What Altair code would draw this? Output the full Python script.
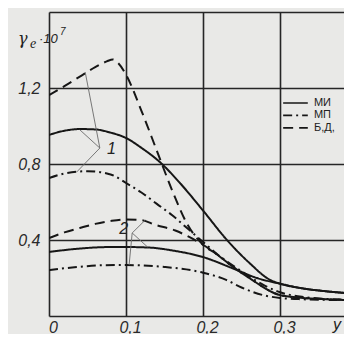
import altair as alt
import pandas as pd

# ---- data ----
mi1_x = [0, 0.02, 0.04, 0.06, 0.08, 0.1, 0.12, 0.144, 0.17, 0.2, 0.231, 0.26, 0.287, 0.3, 0.33, 0.36, 0.395]
mi1_y = [0.953, 0.975, 0.984, 0.982, 0.965, 0.937, 0.885, 0.81, 0.70, 0.555, 0.40, 0.28, 0.19, 0.17, 0.145, 0.13, 0.118]

mi2_x = [0, 0.04, 0.08, 0.1, 0.131, 0.16, 0.2, 0.239, 0.27, 0.3, 0.33, 0.36, 0.395]
mi2_y = [0.337, 0.355, 0.363, 0.363, 0.36, 0.345, 0.31, 0.25, 0.20, 0.17, 0.145, 0.13, 0.118]

mp1_x = [0, 0.02, 0.05, 0.08, 0.1, 0.12, 0.14, 0.16, 0.18, 0.2, 0.22, 0.25, 0.28, 0.3, 0.33, 0.36, 0.395]
mp1_y = [0.726, 0.75, 0.762, 0.745, 0.70, 0.65, 0.59, 0.53, 0.46, 0.39, 0.32, 0.235, 0.16, 0.125, 0.10, 0.09, 0.085]

mp2_x = [0, 0.03, 0.07, 0.1, 0.15, 0.2, 0.23, 0.25, 0.28, 0.3, 0.33, 0.36, 0.395]
mp2_y = [0.242, 0.255, 0.267, 0.268, 0.258, 0.228, 0.19, 0.15, 0.108, 0.095, 0.088, 0.085, 0.083]

bd1_x = [0, 0.02, 0.04, 0.06, 0.075, 0.083, 0.09, 0.1, 0.12, 0.14, 0.16, 0.18, 0.2, 0.216, 0.24, 0.26, 0.275, 0.29, 0.3, 0.33, 0.36, 0.395]
bd1_y = [1.163, 1.21, 1.26, 1.31, 1.34, 1.35, 1.33, 1.27, 1.08, 0.87, 0.66, 0.48, 0.375, 0.33, 0.255, 0.20, 0.16, 0.125, 0.11, 0.095, 0.088, 0.083]

bd2_x = [0, 0.02, 0.04, 0.06, 0.08, 0.1, 0.12, 0.138, 0.164, 0.18, 0.2, 0.216, 0.24, 0.26, 0.275, 0.29, 0.3, 0.33, 0.36, 0.395]
bd2_y = [0.41, 0.44, 0.463, 0.485, 0.50, 0.508, 0.505, 0.48, 0.45, 0.42, 0.375, 0.33, 0.255, 0.20, 0.16, 0.125, 0.11, 0.095, 0.088, 0.083]

series_names = ["МИ", "МП", "Б,Д,"]
dash_styles = [[1, 0], [9, 4, 2, 4], [10, 6]]

# leader lines for the curve labels
lead_x = [0.066, 0.066, 0.066, 0.108, 0.108, 0.108]
lead_y = [0.884, 0.884, 0.884, 0.437, 0.437, 0.437]
lead_x2 = [0.047, 0.040, 0.036, 0.125, 0.128, 0.104]
lead_y2 = [1.284, 0.980, 0.758, 0.505, 0.363, 0.268]

label_text = ["1", "2"]
label_x = [0.081, 0.097]
label_y = [0.879, 0.458]

legend_y = [1.121, 1.056, 0.990]
legend_x0 = 0.304
legend_x1 = 0.336
legend_tx = 0.344

X_MAX = 0.383
ink = "#161616"

rows = []
for name, curve, xs, ys in [
    ("МИ", "1", mi1_x, mi1_y), ("МИ", "2", mi2_x, mi2_y),
    ("МП", "1", mp1_x, mp1_y), ("МП", "2", mp2_x, mp2_y),
    ("Б,Д,", "1", bd1_x, bd1_y), ("Б,Д,", "2", bd2_x, bd2_y),
]:
    for xv, yv in zip(xs, ys):
        rows.append({"series": name, "sid": name + curve, "x": xv, "y": yv})
df = pd.DataFrame(rows)

xscale = alt.Scale(domain=[0, X_MAX], nice=False, zero=False)
yscale = alt.Scale(domain=[0, 1.6], nice=False, zero=False)
dscale = alt.Scale(domain=series_names, range=dash_styles)

xaxis = alt.Axis(
    values=[0, 0.1, 0.2, 0.3], grid=True, gridColor="#262626", gridWidth=1.6,
    domain=False, ticks=False, labelFont="Liberation Sans", labelFontStyle="italic",
    labelFontSize=16, labelColor="#2a2a2a", labelPadding=3, labelOffset=4, labelFlush=False,
    labelExpr="datum.value == 0 ? '0' : replace(format(datum.value, '.1f'), '.', ',')",
    title=None,
)
yaxis = alt.Axis(
    values=[0, 0.4, 0.8, 1.2, 1.6], grid=True, gridColor="#262626", gridWidth=1.6,
    domain=False, ticks=False, labelFont="Liberation Sans", labelFontStyle="italic",
    labelFontSize=16, labelColor="#2a2a2a", labelPadding=9, labelFlush=False,
    labelExpr="(datum.value == 0 || datum.value == 1.6) ? '' : replace(format(datum.value, '.1f'), '.', ',')",
    title=None,
)

lines = alt.Chart(df).mark_line(interpolate="monotone", clip=True, strokeWidth=2, color=ink).encode(
    x=alt.X("x:Q", scale=xscale, axis=xaxis),
    y=alt.Y("y:Q", scale=yscale, axis=yaxis),
    strokeDash=alt.StrokeDash("series:N", scale=dscale, legend=None),
    detail="sid:N",
)

lead_df = pd.DataFrame({"x": lead_x, "y": lead_y, "x2": lead_x2, "y2": lead_y2})
leaders = alt.Chart(lead_df).mark_rule(color="#6a6a6a", strokeWidth=0.9).encode(
    x=alt.X("x:Q", scale=xscale), y=alt.Y("y:Q", scale=yscale), x2="x2:Q", y2="y2:Q"
)

lab_df = pd.DataFrame({"t": label_text, "x": label_x, "y": label_y})
labels = alt.Chart(lab_df).mark_text(
    font="Liberation Sans", fontStyle="italic", fontSize=16, color="#222"
).encode(x=alt.X("x:Q", scale=xscale), y=alt.Y("y:Q", scale=yscale), text="t:N")

leg_df = pd.DataFrame({"series": series_names, "y": legend_y,
                       "x0": [legend_x0] * 3, "x1": [legend_x1] * 3, "tx": [legend_tx] * 3})
leg_lines = alt.Chart(leg_df).mark_rule(color=ink, strokeWidth=1.6).encode(
    x=alt.X("x0:Q", scale=xscale), x2="x1:Q", y=alt.Y("y:Q", scale=yscale),
    strokeDash=alt.StrokeDash("series:N", scale=dscale, legend=None),
)
leg_text = alt.Chart(leg_df).mark_text(
    align="left", baseline="middle", font="Liberation Sans", fontSize=11, color="#222"
).encode(x=alt.X("tx:Q", scale=xscale), y=alt.Y("y:Q", scale=yscale), text="series:N")

# y-axis title  γe·10^7 and x-axis title y
t_df = pd.DataFrame({"a": [1]})
tg = alt.Chart(t_df).mark_text(align="left", baseline="alphabetic", font="DejaVu Serif",
                               fontStyle="italic", fontSize=16, color="#222", text="γ").encode(
    x=alt.value(-31), y=alt.value(32))
te = alt.Chart(t_df).mark_text(align="left", baseline="alphabetic", font="Liberation Serif",
                               fontStyle="italic", fontSize=14, color="#222", text="e").encode(
    x=alt.value(-19), y=alt.value(36))
t10 = alt.Chart(t_df).mark_text(align="left", baseline="alphabetic", font="Liberation Sans",
                                fontStyle="italic", fontSize=13, color="#222", text="·10").encode(
    x=alt.value(-10), y=alt.value(31))
t7 = alt.Chart(t_df).mark_text(align="left", baseline="alphabetic", font="Liberation Sans",
                               fontStyle="italic", fontSize=10, color="#222", text="7").encode(
    x=alt.value(11), y=alt.value(23))
ty = alt.Chart(t_df).mark_text(align="left", baseline="alphabetic", font="Liberation Sans",
                               fontStyle="italic", fontSize=16, color="#222", text="y").encode(
    x=alt.value(284), y=alt.value(318))

chart = alt.layer(lines, leaders, labels, leg_lines, leg_text, tg, te, t10, t7, ty).properties(
    width=295, height=304,
    autosize=alt.AutoSizeParams(type="none"),
    padding={"left": 41, "top": 4, "right": 0, "bottom": 18},
    background="#e9e9e7",
).configure_view(stroke=None)

chart.save("out.html", embed_options={"renderer": "svg", "actions": False})
